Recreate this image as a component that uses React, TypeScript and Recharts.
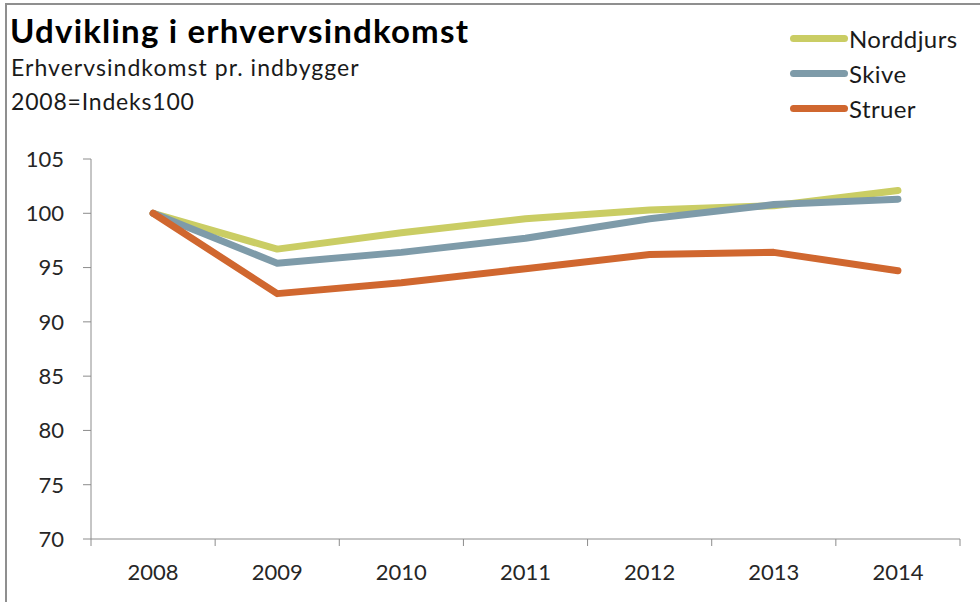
import React from "react";
import { LineChart, Line, XAxis, YAxis } from "recharts";

const years = ["2008", "2009", "2010", "2011", "2012", "2013", "2014"];
const norddjurs = [100, 96.7, 98.2, 99.5, 100.3, 100.7, 102.1];
const skive = [100, 95.4, 96.4, 97.7, 99.5, 100.8, 101.3];
const struer = [100, 92.6, 93.6, 94.9, 96.2, 96.4, 94.7];
const yTicks = [70, 75, 80, 85, 90, 95, 100, 105];

const seriesInfo = [
  { key: "norddjurs", name: "Norddjurs", color: "#CACD64" },
  { key: "skive", name: "Skive", color: "#7E9BA9" },
  { key: "struer", name: "Struer", color: "#D0672F" },
];

const data = years.map((year, i) => ({
  idx: i,
  year,
  norddjurs: norddjurs[i],
  skive: skive[i],
  struer: struer[i],
}));

// tick marks sit between the categories, labels in the middle
const edgeTicks = years.map((_, i) => i - 0.5).concat(years.length - 0.5);
const labelTicks = years.map((_, i) => i);
const xDomain = [-0.5, years.length - 0.5];

const FONT = "Lato, 'Noto Sans', sans-serif";
const AXIS = "#8c8c8c";

export default function App() {
  return (
    <div
      style={{
        position: "absolute",
        left: 0,
        top: 0,
        width: 980,
        height: 602,
        background: "#fff",
        fontFamily: FONT,
        overflow: "hidden",
      }}
    >
      {/* chart frame */}
      <div style={{ position: "absolute", left: 5, top: 3, width: 975, height: 2, background: "#8f8f8f" }} />
      <div style={{ position: "absolute", left: 5, top: 3, width: 2, height: 599, background: "#8f8f8f" }} />

      <div
        style={{
          position: "absolute",
          left: 10,
          top: 14,
          fontSize: 33,
          lineHeight: "33px",
          fontWeight: 700,
          letterSpacing: 1.2,
          color: "#000",
          whiteSpace: "nowrap",
        }}
      >
        Udvikling i erhvervsindkomst
      </div>
      <div style={{ position: "absolute", left: 11, top: 56, fontSize: 23, lineHeight: "23px", letterSpacing: 1.05, color: "#1a1a1a", whiteSpace: "nowrap" }}>
        Erhvervsindkomst pr. indbygger
      </div>
      <div style={{ position: "absolute", left: 11, top: 90, fontSize: 23, lineHeight: "23px", letterSpacing: 0.8, color: "#1a1a1a", whiteSpace: "nowrap" }}>
        2008=Indeks100
      </div>

      {/* legend */}
      <div style={{ position: "absolute", left: 790, top: 21 }}>
        {seriesInfo.map((s) => (
          <div key={s.key} style={{ display: "flex", alignItems: "center", height: 35 }}>
            <div style={{ width: 58, height: 7, borderRadius: 4, background: s.color }} />
            <span style={{ fontSize: 24, lineHeight: "24px", letterSpacing: 0.4, color: "#1a1a1a", marginLeft: 1 }}>{s.name}</span>
          </div>
        ))}
      </div>

      <div style={{ position: "absolute", left: 0, top: 0 }}>
        <LineChart width={980} height={602} data={data} margin={{ top: 159, right: 20, bottom: 15, left: 0 }}>
          <YAxis
            type="number"
            domain={[70, 105]}
            ticks={yTicks}
            interval={0}
            width={91}
            axisLine={{ stroke: AXIS }}
            tickLine={{ stroke: AXIS }}
            tickSize={8}
            tickMargin={19}
            tick={{ fontSize: 22, fill: "#262626", fontFamily: FONT }}
          />
          <XAxis
            xAxisId="edge"
            dataKey="idx"
            type="number"
            domain={xDomain}
            ticks={edgeTicks}
            interval={0}
            height={8}
            axisLine={{ stroke: AXIS }}
            tickLine={{ stroke: AXIS }}
            tickSize={7}
            tickFormatter={() => ""}
          />
          <XAxis
            xAxisId="labels"
            dataKey="idx"
            type="number"
            domain={xDomain}
            ticks={labelTicks}
            interval={0}
            height={40}
            axisLine={false}
            tickLine={false}
            tickSize={0}
            tickMargin={17}
            tickFormatter={(v: number) => years[v]}
            tick={{ fontSize: 22, fill: "#262626", fontFamily: FONT }}
          />
          {seriesInfo.map((s) => (
            <Line
              key={s.key}
              xAxisId="edge"
              type="linear"
              dataKey={s.key}
              name={s.name}
              stroke={s.color}
              strokeWidth={7}
              strokeLinecap="round"
              strokeLinejoin="round"
              dot={false}
              activeDot={false}
              isAnimationActive={false}
            />
          ))}
        </LineChart>
      </div>
    </div>
  );
}
